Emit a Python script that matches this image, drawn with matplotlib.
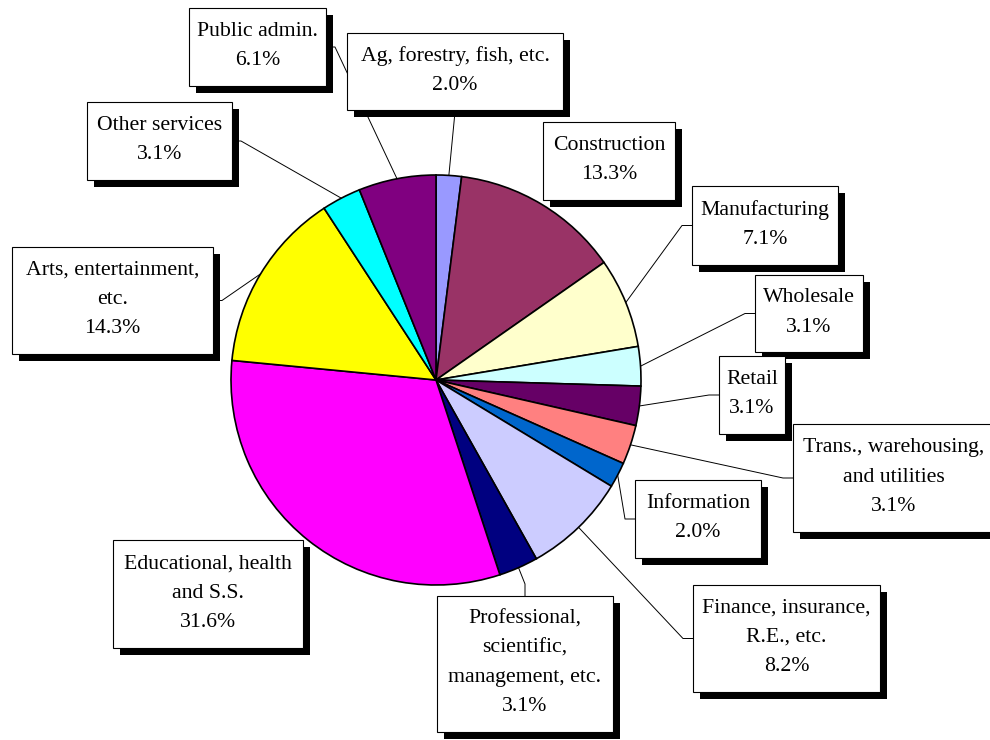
import matplotlib
matplotlib.use("Agg")
import matplotlib.pyplot as plt
from matplotlib.patches import Rectangle
import numpy as np

labels = ["Ag, forestry, fish, etc.", "Construction", "Manufacturing", "Wholesale",
          "Retail", "Trans., warehousing,\nand utilities", "Information",
          "Finance, insurance,\nR.E., etc.", "Professional,\nscientific,\nmanagement, etc.",
          "Educational, health\nand S.S.", "Arts, entertainment,\netc.",
          "Other services", "Public admin."]
values = [2.0, 13.3, 7.1, 3.1, 3.1, 3.1, 2.0, 8.2, 3.1, 31.6, 14.3, 3.1, 6.1]
colors = ["#9999FF", "#993366", "#FFFFCC", "#CCFFFF", "#660066", "#FF8080", "#0066CC",
          "#CCCCFF", "#000080", "#FF00FF", "#FFFF00", "#00FFFF", "#800080"]

# label boxes in pixel coords (x0, y0, x1, y1 from top-left) and leader side
boxes = [(347, 33, 563, 110, "b"), (543, 122, 675, 200, None), (692, 186, 838, 265, "l"),
         (755, 275, 863, 352, "l"), (719, 356, 785, 434, "l"), (793, 424, 995, 532, "l"),
         (635, 480, 761, 558, "l"), (693, 585, 880, 692, "l"), (437, 596, 613, 732, "t"),
         (113, 540, 303, 648, None), (12, 247, 213, 354, "r"), (87, 102, 232, 180, "r"),
         (189, 8, 326, 86, "r")]

W, H = 990, 740
cx, cy, R = 436, 380, 205

fig = plt.figure(figsize=(9.9, 7.4), dpi=100)
ax = fig.add_axes([0, 0, 1, 1])

wedges, _ = ax.pie(values, colors=colors, startangle=90, counterclock=False,
                   center=(cx, H - cy), radius=R,
                   wedgeprops=dict(edgecolor="black", linewidth=1.2))
for w in wedges:
    w.set_zorder(2)
ax.set_xlim(0, W)
ax.set_ylim(0, H)
ax.set_aspect("equal")
ax.axis("off")

total = sum(values)
cum = np.cumsum([0] + values[:-1])
for i, (lab, v) in enumerate(zip(labels, values)):
    x0, y0, x1, y1, side = boxes[i]
    # shadow + box
    ax.add_patch(Rectangle((x0 + 7, H - y1 - 7), x1 - x0, y1 - y0, facecolor="black",
                           edgecolor="none", zorder=4 + i * 0.01))
    ax.add_patch(Rectangle((x0, H - y1), x1 - x0, y1 - y0, facecolor="white",
                           edgecolor="black", linewidth=0.8, zorder=4.005 + i * 0.01))
    ax.text((x0 + x1) / 2, H - (y0 + y1) / 2 + 1, "%s\n%.1f%%" % (lab, v),
            ha="center", va="center", multialignment="center", fontsize=15.7,
            family="Liberation Serif", linespacing=1.72, zorder=5)
    if side is None:
        continue
    ang = np.deg2rad(90 - (cum[i] + v / 2) / total * 360)
    px, py = cx + R * np.cos(ang), cy - R * np.sin(ang)
    if side == "l":
        ax_, ay_ = x0, (y0 + y1) / 2
        ex, ey = ax_ - 10, ay_
    elif side == "r":
        ax_, ay_ = x1, (y0 + y1) / 2
        ex, ey = ax_ + 9, ay_
    elif side == "t":
        ax_, ay_ = (x0 + x1) / 2, y0
        ex, ey = ax_, ay_ - 12
    else:
        ax_, ay_ = (x0 + x1) / 2, y1
        ex, ey = ax_, ay_ + 2
    ax.plot([ax_, ex, px], [H - ay_, H - ey, H - py], color="black", linewidth=0.7,
            zorder=3)

fig.savefig("out.png", dpi=100)
